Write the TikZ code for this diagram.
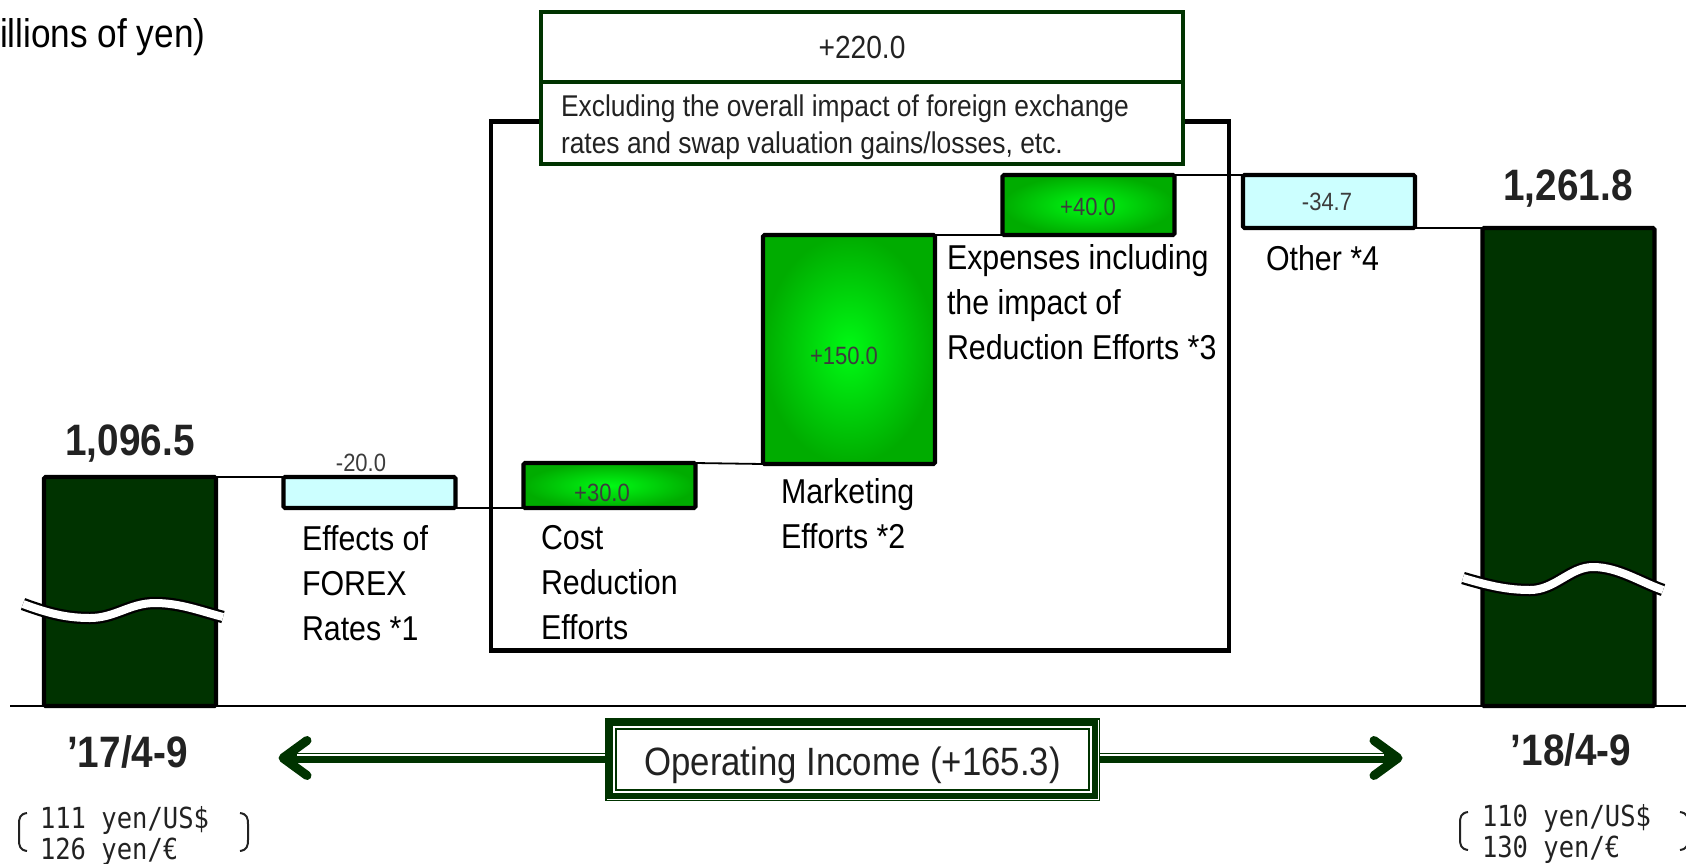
\documentclass[tikz,border=0pt]{standalone}
\usepackage{fontspec}
\setmainfont{Liberation Sans}[FakeStretch=0.88]
\newfontfamily\ratefont{DejaVu Sans Mono}[FakeStretch=0.88]
\usetikzlibrary{calc}

\definecolor{dg}{RGB}{0,51,0}
\definecolor{cy}{RGB}{204,255,255}
\definecolor{glite}{RGB}{0,250,20}
\definecolor{gdark}{RGB}{0,172,0}
\definecolor{numgray}{RGB}{60,60,60}
\definecolor{ink}{RGB}{34,34,34}

\tikzset{
  every node/.style={inner sep=0, outer sep=0},
  barbox/.style={draw=black, line width=4.2, rounded corners=1.5, minimum width=172},
  basebar/.style={barbox, fill=dg},
  negbar/.style={barbox, fill=cy},
  posbar/.style={barbox, inner color=glite, outer color=gdark},
  numtxt/.style={font=\fontsize{25}{30}\selectfont, text=numgray, anchor=base},
  bigtxt/.style={font=\bfseries\fontsize{44}{50}\selectfont, text=ink, anchor=base},
  cattxt/.style={font=\fontsize{34.5}{45}\selectfont, align=left, anchor=north west},
  ratetxt/.style={font=\ratefont\fontsize{29}{30}\selectfont, anchor=base west, text=ink},
  link/.style={draw=black, line width=1.8},
  gbox/.style={draw=dg, line width=4.2, fill=white, minimum width=642},
  shaft/.style={dg, line width=10.5},
  shaftline/.style={white, line width=1.6},
  headtip/.style={dg, line width=9, line cap=round, line join=round},
  breakband/.style={draw=black, line width=2.25, double=white, double distance=8},
  bracket/.style={draw=ink, line width=2},
}

\begin{document}
\begin{tikzpicture}[x=1pt, y=-1pt]
\useasboundingbox (0,0) rectangle (1686,863);

% unit caption
\node[font=\fontsize{40}{46}\selectfont, anchor=base west] (unit) at (0,47) {illions of yen)};

% frame grouping the effort items
\node[draw=black, line width=4.2, minimum width=738, minimum height=529] (frame) at (860,386) {};

% summary box on top of the frame
\node[gbox, minimum height=70, font=\fontsize{32}{38}\selectfont, text=ink] (total) at (862,47) {+220.0};
\node[gbox, minimum height=82] (note) at (862,123) {};
\node[font=\fontsize{30}{37}\selectfont, align=left, anchor=north west, text=ink] (notetext) at (561,95)
  {Excluding the overall impact of foreign exchange\\rates and swap valuation gains/losses, etc.};

% axis
\coordinate (axL) at (10,706);
\coordinate (axR) at (1686,706);
\draw[line width=1.5] (axL) -- (axR);

% bars
\node[basebar, minimum height=229] (bar0) at (130,591.5) {};
\node[negbar,  minimum height=31]  (fx)   at (369.5,492.5) {};
\node[posbar,  minimum height=45]  (cost) at (609.5,485.5) {};
\node[posbar,  minimum height=229] (mkt)  at (849,349.5) {};
\node[posbar,  minimum height=60]  (exp)  at (1088.5,205) {};
\node[negbar,  minimum height=53]  (oth)  at (1329,201.5) {};
\node[basebar, minimum height=478] (bar1) at (1568.5,467) {};

% axis breaks
\draw[breakband] (23,604) .. controls (50,614) and (68,618) .. (90,618)
  .. controls (115,618) and (130,603) .. (155,603)
  .. controls (180,603) and (200,611) .. (223,617);
\draw[breakband] (1463,578) .. controls (1490,586) and (1508,590) .. (1530,590)
  .. controls (1555,590) and (1570,567) .. (1593,567)
  .. controls (1618,567) and (1640,582) .. (1663,590);

% step connectors
\draw[link] (bar0.north east) -- (fx.north west);
\draw[link] (fx.south east) -- (cost.south west);
\draw[link] (cost.north east) -- (mkt.south west);
\draw[link] (mkt.north east) -- (exp.south west);
\draw[link] (exp.north east) -- (oth.north west);
\draw[link] (oth.south east) -- (bar1.north west);

% values
\node[bigtxt] (v0) at (130,455) {1,096.5};
\node[bigtxt] (v1) at (1568,200) {1,261.8};
\node[numtxt] (nfx)   at (361,471)  {-20.0};
\node[numtxt] (ncost) at (602,501)  {+30.0};
\node[numtxt] (nmkt)  at (844,364)  {+150.0};
\node[numtxt] (nexp)  at (1088,215) {+40.0};
\node[numtxt] (noth)  at (1327,210) {-34.7};

% item labels
\node[cattxt] (fxlab)   at (302,526) {Effects of\\FOREX\\Rates *1};
\node[cattxt] (costlab) at (541,525) {Cost\\Reduction\\Efforts};
\node[cattxt] (mktlab)  at (781,478) {Marketing\\Efforts *2};
\node[cattxt] (explab)  at (947,244) {Expenses including\\the impact of\\Reduction Efforts *3};
\node[cattxt] (othlab)  at (1266,245) {Other *4};

% periods
\node[bigtxt] (p17) at (127.5,767) {\textquoteright17/4-9};
\node[bigtxt] (p18) at (1571,765) {\textquoteright18/4-9};

% exchange rates
\node[ratetxt] (r17a) at (40,828) {111 yen/US\$};
\node[ratetxt] (r17b) at (40,859) {126 yen/€};
\node[ratetxt] (r18a) at (1482,826) {110 yen/US\$};
\node[ratetxt] (r18b) at (1482,857) {130 yen/€};
\draw[bracket] (27,813) .. controls (20,814) and (19,818) .. (19,824) -- (19,840)
  .. controls (19,846) and (20,850) .. (27,851);
\draw[bracket] (240,813) .. controls (247,814) and (248,818) .. (248,824) -- (248,840)
  .. controls (248,846) and (247,850) .. (240,851);
\draw[bracket] (1468,812) .. controls (1461,813) and (1460,817) .. (1460,823) -- (1460,839)
  .. controls (1460,845) and (1461,849) .. (1468,850);
\draw[bracket] (1680,812) .. controls (1687,813) and (1688,817) .. (1688,823) -- (1688,839)
  .. controls (1688,845) and (1687,849) .. (1680,850);

% operating income box with triple border
\node[minimum width=495, minimum height=83, fill=white, text height=31, text depth=0,
      font=\fontsize{39.5}{45}\selectfont, text=ink] (opbox) at (852.5,759.5) {Operating Income (+165.3)};
\draw[dg, line width=1.5] ($(opbox.north west)+(0.75,0.75)$) rectangle ($(opbox.south east)+(-0.75,-0.75)$);
\draw[dg, line width=6] ($(opbox.north west)+(5.25,5.25)$) rectangle ($(opbox.south east)+(-5.25,-5.25)$);
\draw[dg, line width=1.5] ($(opbox.north west)+(11,11)$) rectangle ($(opbox.south east)+(-11,-11)$);

% double-headed span arrow
\coordinate (ltip) at (283,758);
\coordinate (rtip) at (1398,758);
\draw[shaft] (opbox.west |- ltip) -- ($(ltip)+(6,0)$);
\draw[shaftline] ($(opbox.west |- ltip)+(0,-3)$) -- ($(ltip)+(14,-3)$);
\draw[headtip] ($(ltip)+(24,-17.5)$) -- (ltip) -- ($(ltip)+(24,17.5)$);
\draw[shaft] (opbox.east |- rtip) -- ($(rtip)+(-6,0)$);
\draw[shaftline] ($(opbox.east |- rtip)+(0,-3)$) -- ($(rtip)+(-14,-3)$);
\draw[headtip] ($(rtip)+(-24,-17.5)$) -- (rtip) -- ($(rtip)+(-24,17.5)$);
\end{tikzpicture}
\end{document}
